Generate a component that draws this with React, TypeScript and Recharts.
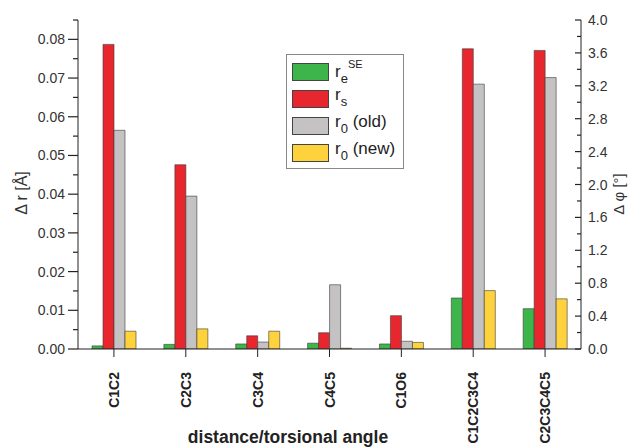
import React from "react";
import { ComposedChart, Bar, Line, XAxis, YAxis, Legend } from "recharts";

// distances (Å) for the first five categories, torsions (°) for the last two
const distanceLabels = ["C1C2", "C2C3", "C3C4", "C4C5", "C1O6"];
const torsionLabels = ["C1C2C3C4", "C2C3C4C5"];

const rSEDist = [0.0008, 0.0012, 0.0013, 0.0015, 0.0013];
const rSDist = [0.0787, 0.0476, 0.0034, 0.0042, 0.0086];
const r0OldDist = [0.0565, 0.0395, 0.0018, 0.0166, 0.002];
const r0NewDist = [0.0046, 0.0052, 0.0046, 0.0002, 0.0017];

const rSETors = [0.62, 0.49];
const rSTors = [3.65, 3.63];
const r0OldTors = [3.22, 3.3];
const r0NewTors = [0.71, 0.61];

const LEFT_MAX = 0.085;
const RIGHT_MAX = 4.0;
const leftTicks = Array.from({ length: 18 }, (_, i) => +(i * 0.005).toFixed(3));
const rightTicks = Array.from({ length: 21 }, (_, i) => +(i * 0.2).toFixed(1));

// torsions are drawn against the left scale, converted to its units
const toLeft = (deg: number) => (deg * LEFT_MAX) / RIGHT_MAX;

const data = [
  ...distanceLabels.map((name, i) => ({
    name,
    rSE: rSEDist[i],
    rS: rSDist[i],
    r0Old: r0OldDist[i],
    r0New: r0NewDist[i],
    deg: null as number | null,
  })),
  ...torsionLabels.map((name, i) => ({
    name,
    rSE: toLeft(rSETors[i]),
    rS: toLeft(rSTors[i]),
    r0Old: toLeft(r0OldTors[i]),
    r0New: toLeft(r0NewTors[i]),
    deg: rSTors[i],
  })),
];

const COLORS = {
  rSE: "#3db54a",
  rS: "#e8262e",
  r0Old: "#c4c2c2",
  r0New: "#fdd23c",
};

const FONT = "'Liberation Sans', Arial, sans-serif";
const AXIS = "#222";

// eslint-disable-next-line @typescript-eslint/no-explicit-any
function LeftTick({ x, y, payload }: any) {
  const v = payload.value as number;
  const major = Math.round(v * 1000) % 10 === 0;
  const ax = x + 3 + 10;
  return (
    <g>
      <line x1={ax - (major ? 10 : 5)} x2={ax} y1={y} y2={y} stroke={AXIS} strokeWidth={1.2} />
      {major && (
        <text x={x} y={y} textAnchor="end" dominantBaseline="central" fontSize={14} fill="#333" fontFamily={FONT}>
          {v.toFixed(2)}
        </text>
      )}
    </g>
  );
}

// eslint-disable-next-line @typescript-eslint/no-explicit-any
function RightTick({ x, y, payload }: any) {
  const v = payload.value as number;
  const major = Math.round(v * 10) % 4 === 0;
  const ax = x - 7;
  return (
    <g>
      <line x1={ax - (major ? 6 : 4)} x2={ax} y1={y} y2={y} stroke={AXIS} strokeWidth={1.2} />
      {major && (
        <text x={x} y={y} textAnchor="start" dominantBaseline="central" fontSize={14} fill="#333" fontFamily={FONT}>
          {v.toFixed(1)}
        </text>
      )}
    </g>
  );
}

// eslint-disable-next-line @typescript-eslint/no-explicit-any
function CategoryTick({ x, y, payload }: any) {
  return (
    <text
      x={x}
      y={y}
      transform={`rotate(-90 ${x} ${y})`}
      textAnchor="end"
      dominantBaseline="central"
      fontSize={14}
      fontWeight="bold"
      fill="#222"
      fontFamily={FONT}
    >
      {payload.value}
    </text>
  );
}

const legendRows = [
  { key: "rSE", sub: "e", sup: "SE", rest: "" },
  { key: "rS", sub: "s", sup: "", rest: "" },
  { key: "r0Old", sub: "0", sup: "", rest: " (old)" },
  { key: "r0New", sub: "0", sup: "", rest: " (new)" },
] as const;

function LegendBox() {
  return (
    <div
      style={{
        width: 118,
        height: 115,
        border: "1px solid #888",
        background: "#fff",
        boxSizing: "border-box",
        padding: "3px 0 0 5px",
        fontFamily: FONT,
        color: "#222",
      }}
    >
      {legendRows.map((r) => (
        <div key={r.key} style={{ display: "flex", alignItems: "center", height: 27 }}>
          <div
            style={{
              width: 37,
              height: 18,
              background: COLORS[r.key],
              border: "1px solid #444",
              boxSizing: "border-box",
              marginRight: 6,
            }}
          />
          <span style={{ fontSize: 17, lineHeight: "16px", whiteSpace: "nowrap" }}>
            r<sub style={{ fontSize: 13, verticalAlign: -6 }}>{r.sub}</sub>
            {r.sup && <sup style={{ fontSize: 11, verticalAlign: 9 }}>{r.sup}</sup>}
            {r.rest}
          </span>
        </div>
      ))}
    </div>
  );
}

export default function App() {
  return (
    <div style={{ position: "absolute", left: 0, top: 0, width: 635, height: 447, background: "#fff" }}>
      <ComposedChart
        width={635}
        height={447}
        data={data}
        margin={{ top: 20, right: 0, bottom: 0, left: 0 }}
        barCategoryGap="19.5%"
        barGap={0}
      >
        <XAxis
          dataKey="name"
          height={98}
          stroke={AXIS}
          tickSize={8}
          tickMargin={15}
          tick={<CategoryTick />}
          interval={0}
        />
        <YAxis
          yAxisId="left"
          width={78}
          domain={[0, LEFT_MAX]}
          ticks={leftTicks}
          interval={0}
          tickSize={10}
          tickMargin={3}
          tickLine={false}
          stroke={AXIS}
          tick={<LeftTick />}
          allowDataOverflow
        />
        <YAxis
          yAxisId="right"
          orientation="right"
          width={54}
          domain={[0, RIGHT_MAX]}
          ticks={rightTicks}
          interval={0}
          tickSize={0}
          tickMargin={7}
          tickLine={false}
          stroke={AXIS}
          tick={<RightTick />}
          allowDataOverflow
        />
        <Legend
          layout="vertical"
          verticalAlign="middle"
          align="center"
          wrapperStyle={{ left: 286, top: 54, width: 118 }}
          content={() => <LegendBox />}
        />
        {(["rSE", "rS", "r0Old", "r0New"] as const).map((k) => (
          <Bar
            key={k}
            yAxisId="left"
            dataKey={k}
            fill={COLORS[k]}
            stroke="#3a3a3a"
            strokeWidth={0.8}
            strokeOpacity={0.75}
            isAnimationActive={false}
          />
        ))}
        {/* carries the right (degree) axis; drawn invisibly */}
        <Line
          yAxisId="right"
          dataKey="deg"
          stroke="none"
          dot={false}
          activeDot={false}
          legendType="none"
          isAnimationActive={false}
        />
      </ComposedChart>
      <svg
        width={635}
        height={447}
        style={{ position: "absolute", left: 0, top: 0, pointerEvents: "none" }}
        fontFamily={FONT}
      >
        <text x={21} y={193} transform="rotate(-90 21 193)" textAnchor="middle" dominantBaseline="central" fontSize={16} fill="#333">
          Δ r [Å]
        </text>
        <text x={618} y={194} transform="rotate(-90 618 194)" textAnchor="middle" dominantBaseline="central" fontSize={15} fill="#333">
          Δ φ [°]
        </text>
        <text x={288} y={443} textAnchor="middle" fontSize={17.5} fontWeight="bold" fill="#222">
          distance/torsional angle
        </text>
      </svg>
    </div>
  );
}
